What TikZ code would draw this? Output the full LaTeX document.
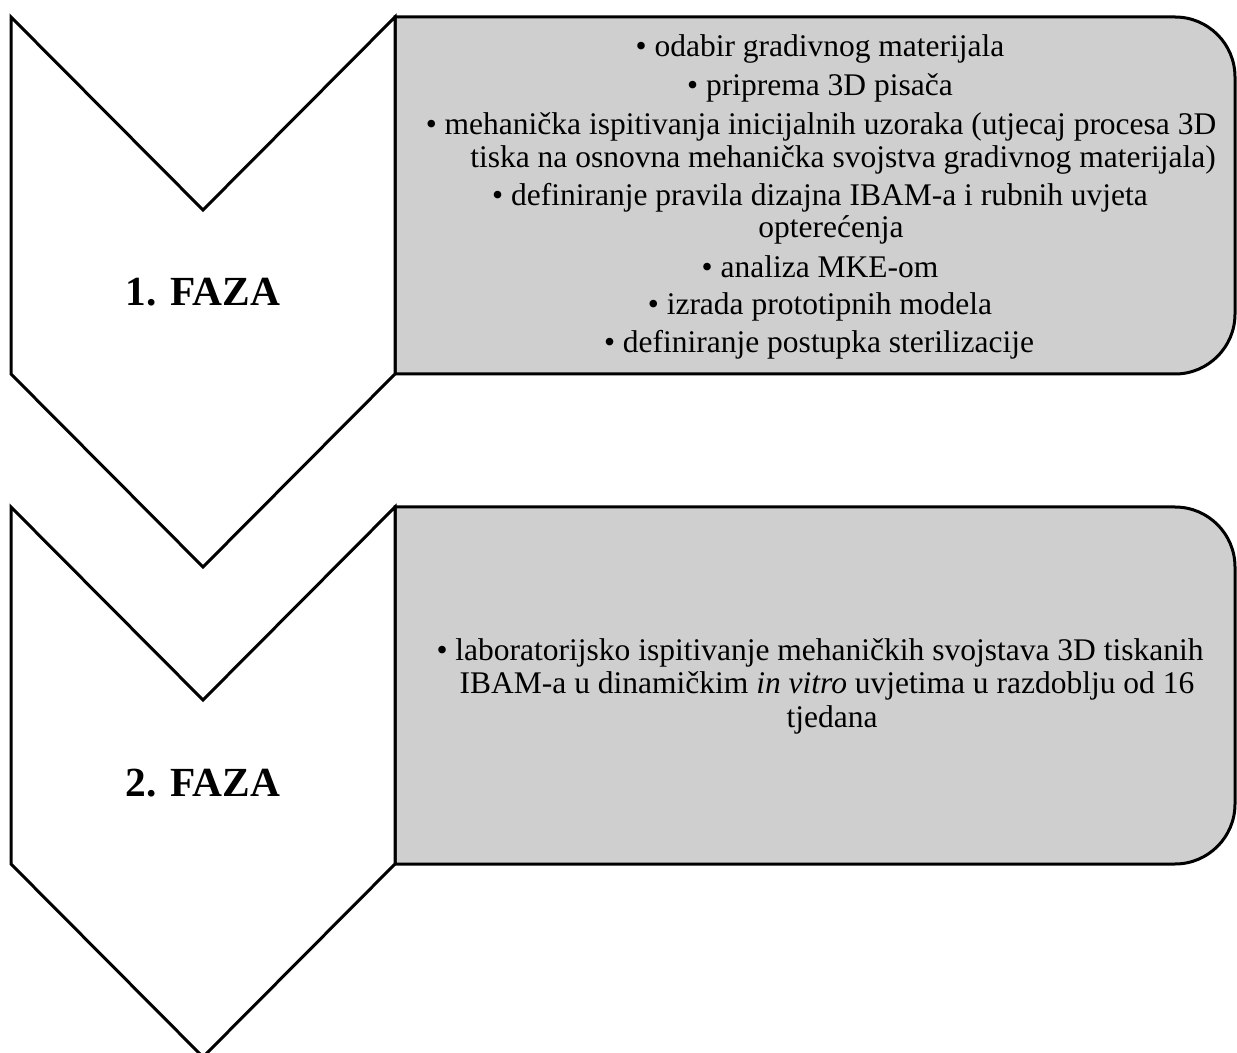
\documentclass[tikz,border=0pt]{standalone}
\usepackage{fontspec}
\setmainfont{Liberation Serif}
\definecolor{boxgray}{RGB}{207,207,207}
\begin{document}
\begin{tikzpicture}[x=0.5pt,y=-0.5pt, line width=1.5pt,
  phase/.style={draw=black, fill=white, line join=miter},
  infobox/.style={draw=black, fill=boxgray},
  item/.style={anchor=base, inner sep=0pt, font=\fontsize{15.75}{17}\selectfont},
  faza/.style={anchor=base, inner sep=0pt, font=\fontsize{20.7}{24}\selectfont\bfseries}]
\useasboundingbox (0,0) rectangle (1237,1053);

% phase 1
\draw[infobox] (395,17) -- (1175,17) arc[start angle=90,end angle=0,radius=30pt]
  -- (1235,314) arc[start angle=0,end angle=-90,radius=30pt] -- (395,374) -- cycle;
\draw[phase] (11,17) -- (203,210) -- (395,17) -- (395,374) -- (203,567) -- (11,374) -- cycle;

% phase 2
\draw[infobox] (395,507) -- (1175,507) arc[start angle=90,end angle=0,radius=30pt]
  -- (1235,804) arc[start angle=0,end angle=-90,radius=30pt] -- (395,864) -- cycle;
\draw[phase] (11,507) -- (203,700) -- (395,507) -- (395,864) -- (203,1057) -- (11,864) -- cycle;

\node[faza] (f1) at (203,306) {1. FAZA};
\node[faza] (f2) at (203,796) {2. FAZA};

\node[item] (a1) at (820,57) {• odabir gradivnog materijala};
\node[item] (a2) at (820,96) {• priprema 3D pisača};
\node[item] (a3) at (821,135) {• mehanička ispitivanja inicijalnih uzoraka (utjecaj procesa 3D};
\node[item] (a4) at (843,168) {tiska na osnovna mehanička svojstva gradivnog materijala)};
\node[item] (a5) at (820,206) {• definiranje pravila dizajna IBAM-a i rubnih uvjeta};
\node[item] (a6) at (831,238) {opterećenja};
\node[item] (a7) at (820,278) {• analiza MKE-om};
\node[item] (a8) at (820,315) {• izrada prototipnih modela};
\node[item] (a9) at (819,353) {• definiranje postupka sterilizacije};

\node[item] (b1) at (820,660) {• laboratorijsko ispitivanje mehaničkih svojstava 3D tiskanih};
\node[item] (b2) at (827,693) {IBAM-a u dinamičkim \textit{in vitro} uvjetima u razdoblju od 16};
\node[item] (b3) at (832,727) {tjedana};
\end{tikzpicture}
\end{document}
